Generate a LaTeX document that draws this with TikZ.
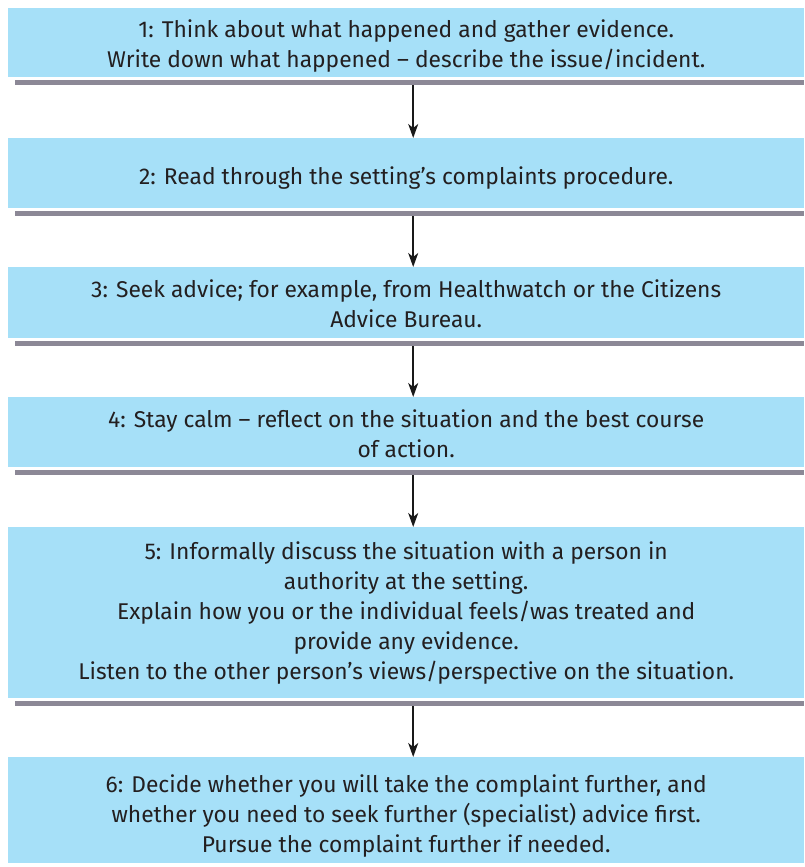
\documentclass[tikz,border=0pt]{standalone}
\usepackage{fontspec}
\setmainfont{Fira Sans}
\usetikzlibrary{arrows.meta}
\definecolor{stepblue}{RGB}{166,224,248}
\definecolor{stepshade}{RGB}{140,136,150}
\definecolor{steptext}{RGB}{35,31,32}
\tikzset{
  stepbox/.style={fill=stepblue, anchor=north west, minimum width=796pt,
    inner sep=0pt},
  steplabel/.style={inner sep=0pt, align=center, text=steptext,
    font=\fontsize{22.8}{30}\selectfont},
  flowarrow/.style={draw=black!90, line width=1.6pt,
    -{Stealth[length=14pt,width=10pt,inset=4pt]}},
}
\newcommand{\stepshadow}[1]{%
  \fill[stepshade] ([xshift=7pt,yshift=-3pt]#1.south west) rectangle ([yshift=-8pt]#1.south east);}
\begin{document}
\begin{tikzpicture}[x=1pt,y=1pt]
\useasboundingbox (0,0) rectangle (804,-867);
\fill[white] (0,0) rectangle (804,-867);

% step boxes
\node[stepbox, minimum height=69pt]  (b1) at (8,-8)   {};
\node[stepbox, minimum height=70pt]  (b2) at (8,-138) {};
\node[stepbox, minimum height=71pt]  (b3) at (8,-267) {};
\node[stepbox, minimum height=70pt]  (b4) at (8,-397) {};
\node[stepbox, minimum height=171pt] (b5) at (8,-527) {};
\node[stepbox, minimum height=106pt] (b6) at (8,-757) {};

% step texts
\node[steplabel] (t1) at ([yshift=-3pt]b1.center)
  {1: Think about what happened and gather evidence.\\
   Write down what happened -- describe the issue/incident.};
\node[steplabel] (t2) at ([yshift=-5pt]b2.center)
  {2: Read through the setting's complaints procedure.};
\node[steplabel] (t3) at ([yshift=-1pt]b3.center)
  {3: Seek advice; for example, from Healthwatch or the Citizens\\
   Advice Bureau.};
\node[steplabel] (t4) at ([yshift=-2pt]b4.center)
  {4: Stay calm -- reflect on the situation and the best course\\
   of action.};
\node[steplabel] (t5) at (b5.center)
  {5: Informally discuss the situation with a person in\\
   authority at the setting.\\
   Explain how you or the individual feels/was treated and\\
   provide any evidence.\\
   Listen to the other person's views/perspective on the situation.};
\node[steplabel] (t6) at ([yshift=-6pt]b6.center)
  {6: Decide whether you will take the complaint further, and\\
   whether you need to seek further (specialist) advice first.\\
   Pursue the complaint further if needed.};

% shadow bars under the boxes
\stepshadow{b1}
\stepshadow{b2}
\stepshadow{b3}
\stepshadow{b4}
\stepshadow{b5}

% connectors
\draw[flowarrow] ([xshift=7pt,yshift=-8pt]b1.south) -- ([xshift=7pt]b2.north);
\draw[flowarrow] ([xshift=7pt,yshift=-8pt]b2.south) -- ([xshift=7pt]b3.north);
\draw[flowarrow] ([xshift=7pt,yshift=-8pt]b3.south) -- ([xshift=7pt]b4.north);
\draw[flowarrow] ([xshift=7pt,yshift=-8pt]b4.south) -- ([xshift=7pt]b5.north);
\draw[flowarrow] ([xshift=7pt,yshift=-8pt]b5.south) -- ([xshift=7pt]b6.north);
\end{tikzpicture}
\end{document}
